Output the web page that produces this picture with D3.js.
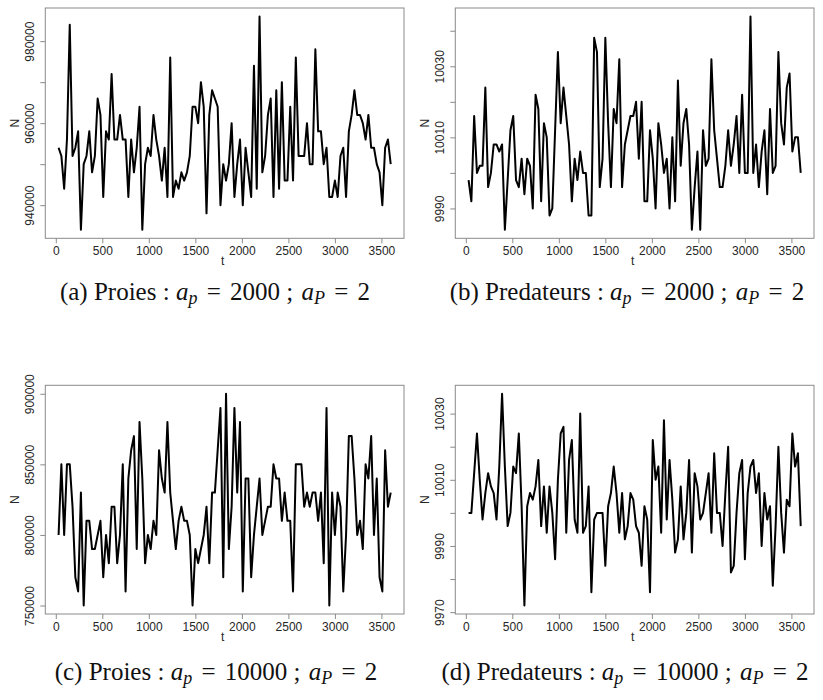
<!DOCTYPE html>
<html>
<head>
<meta charset="utf-8">
<script src="https://cdn.jsdelivr.net/npm/d3@7"></script>
<style>
  html, body { margin: 0; padding: 0; background: #fff; }
  svg { display: block; }
  text { white-space: pre; }
</style>
</head>
<body>
<svg id="chart" width="823" height="700"></svg>
<script>
// ---------------- DATA ----------------
// time steps (t = 30, 60, ..., 3600)
const times = d3.range(30, 3601, 30);

// (a) Proies : a_p = 2000 ; a_P = 2
const preyA = [954000,952000,944000,956000,984000,952000,954000,958000,934000,950000,
952000,958000,948000,952000,966000,962000,942000,958000,956000,972000,
956000,956000,962000,956000,956000,942000,956000,948000,954000,964000,
934000,950000,954000,952000,962000,956000,952000,946000,954000,942000,
976000,942000,946000,944000,948000,946000,948000,952000,964000,964000,
960000,970000,964000,938000,962000,968000,966000,964000,940000,950000,
946000,950000,960000,942000,950000,956000,940000,954000,948000,942000,
974000,944000,986000,948000,952000,962000,966000,942000,968000,944000,
970000,946000,946000,964000,946000,976000,952000,952000,952000,960000,
950000,950000,978000,958000,958000,950000,954000,942000,942000,946000,
942000,952000,954000,942000,958000,962000,968000,962000,962000,960000,
956000,962000,954000,954000,950000,948000,940000,954000,956000,950000];

// (b) Predateurs : a_p = 2000 ; a_P = 2
const predB = [9998,9992,10016,10000,10002,10002,10024,9996,10000,10008,
10008,10006,10008,9984,9998,10012,10016,9998,9996,10004,
9994,10004,10002,9990,10022,10018,9992,10014,10010,9988,
9990,10012,10034,10014,10024,10016,10008,9992,10004,9998,
10006,10000,10000,9988,9988,10038,10034,9996,10004,10038,
10014,9996,10018,10014,10032,9996,10008,10012,10016,10016,
10020,10004,10020,9992,9992,10012,10004,9990,10014,10008,
10000,10004,9990,10010,9992,10026,10002,10014,10018,10008,
9984,9996,10006,9984,10012,10002,10004,10032,10012,10004,
9996,9996,10002,10012,10002,10008,10016,10000,10022,10000,
10000,10044,10000,10008,9996,10006,10012,9994,10018,10000,
10002,10034,10014,10008,10024,10028,10006,10010,10010,10000];

// (c) Proies : a_p = 10000 ; a_P = 2
const preyC = [800000,850000,800000,850000,850000,820000,770000,760000,830000,750000,
810000,810000,790000,790000,800000,810000,770000,800000,780000,820000,
820000,780000,800000,850000,760000,840000,860000,870000,790000,880000,
840000,780000,800000,790000,810000,800000,860000,840000,830000,880000,
830000,810000,790000,810000,820000,810000,810000,800000,750000,790000,
780000,790000,800000,820000,780000,830000,830000,860000,890000,770000,
900000,790000,820000,890000,830000,880000,760000,840000,840000,770000,
800000,820000,840000,800000,810000,820000,820000,850000,840000,840000,
810000,830000,810000,810000,760000,850000,850000,850000,820000,830000,
820000,830000,830000,810000,830000,780000,890000,750000,830000,800000,
830000,820000,760000,800000,870000,870000,840000,800000,810000,790000,
850000,840000,870000,800000,840000,770000,760000,860000,820000,830000];

// (d) Predateurs : a_p = 10000 ; a_P = 2
const predD = [10000,10000,10012,10024,10010,9998,10006,10012,10008,10006,
9998,10014,10036,10014,9996,10000,10014,10012,10024,10002,
9972,10002,10006,10004,10008,10016,9996,10008,9994,10008,
10000,9986,10010,10024,10026,9994,10016,10022,9998,9994,
10030,9994,9996,10008,9976,9998,10000,10000,10000,9984,
10002,10006,10014,10006,9994,10006,9992,9996,10006,10004,
9996,9994,9984,10002,9998,9976,10022,10010,10014,9994,
10028,9998,10016,10004,9988,9992,10008,9992,10000,10016,
9988,10012,10008,9998,10000,10006,10012,9994,10018,10000,
10000,9990,10006,10020,9982,9984,10000,10012,10016,9986,
10006,10014,10016,10006,10012,9990,10006,9998,10002,9978,
9996,10020,10000,9988,10004,10002,10024,10014,10018,9996];

// tick values
const xTicks = [0, 500, 1000, 1500, 2000, 2500, 3000, 3500];
const yTicksA = [940000, 950000, 960000, 970000, 980000];
const yLabelsA = [940000, 960000, 980000];
const yTicksB = [9990, 10000, 10010, 10020, 10030, 10040];
const yLabelsB = [9990, 10010, 10030];
const yTicksC = [750000, 800000, 850000, 900000];
const yLabelsC = [750000, 800000, 850000, 900000];
const yTicksD = [9970, 9980, 9990, 10000, 10010, 10020, 10030];
const yLabelsD = [9970, 9990, 10010, 10030];

// captions
const captions = [
  { tag: "(a)", who: "Proies", ap: "2000", aP: "2" },
  { tag: "(b)", who: "Predateurs", ap: "2000", aP: "2" },
  { tag: "(c)", who: "Proies", ap: "10000", aP: "2" },
  { tag: "(d)", who: "Predateurs", ap: "10000", aP: "2" }
];

// ---------------- LAYOUT ----------------
const svg = d3.select("#chart");
const boxColor = "#8a8a8a";
const labelColor = "#262626";
const sans = "'Liberation Sans', Arial, Helvetica, sans-serif";
const serif = "'Liberation Serif', 'Times New Roman', serif";

const panels = [
  { values: preyA, yTicks: yTicksA, yLabels: yLabelsA, x0: 45.3, x1: 404, y0: 8, y1: 238.3, cap: captions[0], capX: 215, capY: 300 },
  { values: predB, yTicks: yTicksB, yLabels: yLabelsB, x0: 455.3, x1: 814, y0: 8, y1: 238.3, cap: captions[1], capX: 627, capY: 300 },
  { values: preyC, yTicks: yTicksC, yLabels: yLabelsC, x0: 45.3, x1: 404, y0: 385.3, y1: 614, cap: captions[2], capX: 216, capY: 680 },
  { values: predD, yTicks: yTicksD, yLabels: yLabelsD, x0: 455.3, x1: 814, y0: 385.3, y1: 614, cap: captions[3], capX: 625, capY: 680 }
];

function padded(ext) {
  const r = ext[1] - ext[0];
  return [ext[0] - 0.04 * r, ext[1] + 0.04 * r];
}

panels.forEach(p => {
  const g = svg.append("g");
  const x = d3.scaleLinear().domain(padded(d3.extent(times))).range([p.x0, p.x1]);
  const y = d3.scaleLinear().domain(padded(d3.extent(p.values))).range([p.y1, p.y0]);

  // box
  g.append("rect")
    .attr("x", p.x0).attr("y", p.y0)
    .attr("width", p.x1 - p.x0).attr("height", p.y1 - p.y0)
    .attr("fill", "none").attr("stroke", boxColor).attr("stroke-width", 1);

  // x axis
  const xa = g.append("g")
    .attr("transform", `translate(0,${p.y1})`)
    .call(d3.axisBottom(x).tickValues(xTicks).tickSize(5).tickPadding(3).tickFormat(d3.format("d")));
  xa.select(".domain").remove();
  xa.selectAll(".tick line").attr("stroke", boxColor);
  xa.selectAll(".tick text")
    .attr("fill", labelColor)
    .style("font-family", sans).style("font-size", "12px");

  // y axis
  const ya = g.append("g")
    .attr("transform", `translate(${p.x0},0)`)
    .call(d3.axisLeft(y).tickValues(p.yTicks).tickSize(5)
      .tickFormat(d => p.yLabels.includes(d) ? d3.format("d")(d) : ""));
  ya.select(".domain").remove();
  ya.selectAll(".tick line").attr("stroke", boxColor);
  ya.selectAll(".tick text")
    .attr("fill", labelColor)
    .attr("x", null).attr("dy", null).attr("y", 0)
    .attr("text-anchor", "middle")
    .attr("transform", "translate(-11,0) rotate(-90)")
    .style("font-family", sans).style("font-size", "12px");

  // axis titles
  g.append("text")
    .attr("x", (p.x0 + p.x1) / 2 - 2).attr("y", p.y1 + 27)
    .attr("text-anchor", "middle").attr("fill", labelColor)
    .style("font-family", sans).style("font-size", "12px")
    .text("t");
  g.append("text")
    .attr("transform", `translate(${p.x0 - 26},${(p.y0 + p.y1) / 2}) rotate(-90)`)
    .attr("text-anchor", "middle").attr("fill", labelColor)
    .style("font-family", sans).style("font-size", "12px")
    .text("N");

  // series line
  const line = d3.line().x((d, i) => x(times[i])).y(d => y(d));
  g.append("path")
    .datum(p.values)
    .attr("d", line)
    .attr("fill", "none").attr("stroke", "#000")
    .attr("stroke-width", 2).attr("stroke-linejoin", "round");

  // caption
  const c = p.cap;
  const t = svg.append("text")
    .attr("x", p.capX).attr("y", p.capY)
    .attr("text-anchor", "middle").attr("fill", "#111")
    .style("font-family", serif).style("font-size", "25px");
  t.append("tspan").text(`${c.tag} ${c.who} : `);
  t.append("tspan").style("font-style", "italic").text("a");
  t.append("tspan").style("font-style", "italic").style("font-size", "18px").attr("dy", 4).text("p");
  t.append("tspan").attr("dy", -4).attr("dx", 3).text(" = ");
  t.append("tspan").attr("dx", 3).text(`${c.ap} ; `);
  t.append("tspan").style("font-style", "italic").attr("dx", 2).text("a");
  t.append("tspan").style("font-style", "italic").style("font-size", "18px").attr("dy", 4).text("P");
  t.append("tspan").attr("dy", -4).attr("dx", 3).text(" = ");
  t.append("tspan").attr("dx", 3).text(`${c.aP}`);
});
</script>
</body>
</html>
